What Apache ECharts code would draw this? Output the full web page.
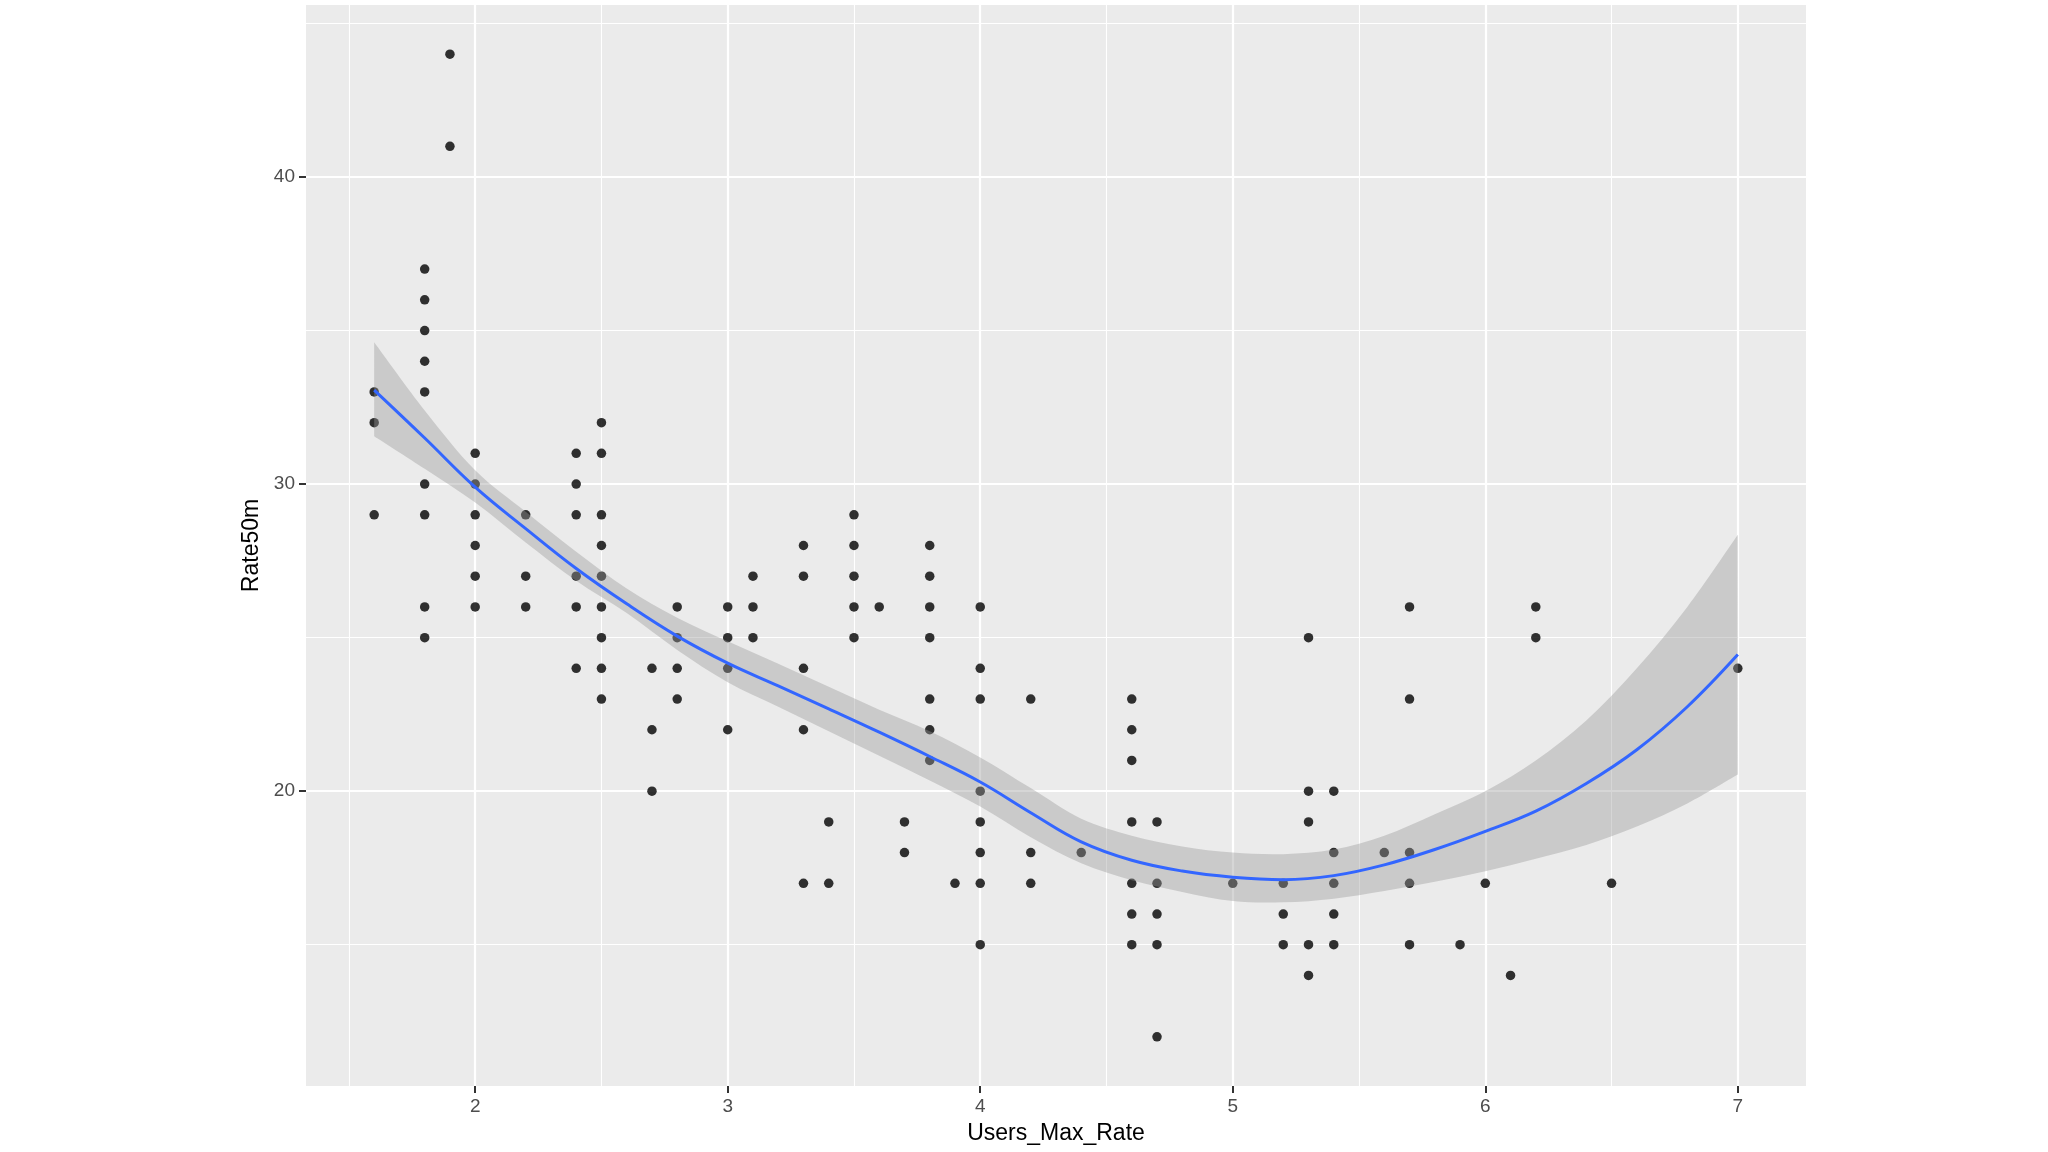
<!DOCTYPE html>
<html><head><meta charset="utf-8">
<script src="https://cdn.jsdelivr.net/npm/echarts@6/dist/echarts.min.js"></script>
<style>html,body{margin:0;padding:0;background:#fff}#c{width:2048px;height:1152px}</style>
</head><body><div id="c"></div>
<script>
// ---- scatter data (Users_Max_Rate, Rate50m) ----
const pointX = [
  1.6,1.6,1.6,
  1.8,1.8,1.8,1.8,1.8,1.8,1.8,1.8,1.8,
  1.9,1.9,
  2.0,2.0,2.0,2.0,2.0,2.0,
  2.2,2.2,2.2,
  2.4,2.4,2.4,2.4,2.4,2.4,
  2.5,2.5,2.5,2.5,2.5,2.5,2.5,2.5,2.5,
  2.7,2.7,2.7,
  2.8,2.8,2.8,2.8,
  3.0,3.0,3.0,3.0,
  3.1,3.1,3.1,
  3.3,3.3,3.3,3.3,3.3,
  3.4,3.4,
  3.5,3.5,3.5,3.5,3.5,
  3.6,
  3.7,3.7,
  3.8,3.8,3.8,3.8,3.8,3.8,3.8,
  3.9,
  4.0,4.0,4.0,4.0,4.0,4.0,4.0,4.0,
  4.2,4.2,4.2,
  4.4,
  4.6,4.6,4.6,4.6,4.6,4.6,4.6,
  4.7,4.7,4.7,4.7,4.7,
  5.0,
  5.2,5.2,5.2,
  5.3,5.3,5.3,5.3,5.3,
  5.4,5.4,5.4,5.4,5.4,
  5.6,
  5.7,5.7,5.7,5.7,5.7,
  5.9,
  6.0,
  6.1,
  6.2,6.2,
  6.5,
  7.0
];
const pointY = [
  33,32,29,
  37,36,35,34,33,30,29,26,25,
  44,41,
  31,30,29,28,27,26,
  29,27,26,
  31,30,29,27,26,24,
  32,31,29,28,27,26,25,24,23,
  24,22,20,
  26,25,24,23,
  26,25,24,22,
  27,26,25,
  28,27,24,22,17,
  19,17,
  29,28,27,26,25,
  26,
  19,18,
  28,27,26,25,23,22,21,
  17,
  26,24,23,20,19,18,17,15,
  23,18,17,
  18,
  23,22,21,19,17,16,15,
  19,17,16,15,12,
  17,
  17,16,15,
  25,20,19,15,14,
  20,18,17,16,15,
  18,
  26,23,18,17,15,
  15,
  17,
  14,
  26,25,
  17,
  24
];

// ---- smoother and its confidence band ----
const fitX      = [1.6, 1.8, 2.0, 2.2, 2.4, 2.6, 2.8, 3.0, 3.2, 3.4, 3.6, 3.8, 4.0, 4.2, 4.4, 4.6, 4.8, 5.0, 5.2, 5.4, 5.6, 5.8, 6.0, 6.2, 6.4, 6.6, 6.8, 7.0];
const fitY      = [33.06, 31.5, 29.9, 28.55, 27.25, 26.1, 25.05, 24.17, 23.43, 22.68, 21.92, 21.13, 20.3, 19.3, 18.35, 17.75, 17.4, 17.2, 17.12, 17.25, 17.6, 18.1, 18.69, 19.35, 20.25, 21.35, 22.75, 24.45];
const bandUpper = [34.62, 32.4, 30.45, 29.1, 27.8, 26.6, 25.65, 24.88, 24.15, 23.4, 22.65, 21.95, 21.1, 20.1, 19.1, 18.55, 18.2, 18.0, 17.95, 18.1, 18.55, 19.25, 20.0, 21.0, 22.3, 24.0, 26.0, 28.35];
const bandLower = [31.56, 30.5, 29.4, 28.1, 26.85, 25.8, 24.6, 23.55, 22.75, 21.95, 21.15, 20.35, 19.5, 18.5, 17.65, 17.1, 16.72, 16.42, 16.38, 16.5, 16.75, 17.05, 17.39, 17.8, 18.25, 18.85, 19.6, 20.54];

// ---- axes ----
const xTickLabels = [2, 3, 4, 5, 6, 7];
const xMinorBreaks = [1.5, 2.5, 3.5, 4.5, 5.5, 6.5];
const yTickLabels = [20, 30, 40];
const yMinorBreaks = [15, 25, 35, 45];
const xLimits = [1.33, 7.27];
const yLimits = [10.4, 45.6];
const xTitle = 'Users_Max_Rate';
const yTitle = 'Rate50m';

const FONT = '"Liberation Sans", Arial, sans-serif';
const chart = echarts.init(document.getElementById('c'), null, {renderer: 'canvas'});

const scatterData = pointX.map((x, i) => [x, pointY[i]]);
const fitData = fitX.map((x, i) => [x, fitY[i]]);

const minorLine = {show: true, lineStyle: {color: '#FFFFFF', width: 1.1}};
const majorLine = {show: true, lineStyle: {color: '#FFFFFF', width: 2.2}};

// Smooth curve through pixel points (Catmull-Rom as cubic Bezier segments)
function curveSegments(p) {
  let d = '';
  for (let i = 0; i < p.length - 1; i++) {
    const p0 = p[Math.max(i - 1, 0)], p1 = p[i], p2 = p[i + 1], p3 = p[Math.min(i + 2, p.length - 1)];
    const c1x = p1[0] + (p2[0] - p0[0]) / 6, c1y = p1[1] + (p2[1] - p0[1]) / 6;
    const c2x = p2[0] - (p3[0] - p1[0]) / 6, c2y = p2[1] - (p3[1] - p1[1]) / 6;
    d += ' C' + c1x.toFixed(2) + ' ' + c1y.toFixed(2) + ' ' + c2x.toFixed(2) + ' ' + c2y.toFixed(2) + ' ' + p2[0].toFixed(2) + ' ' + p2[1].toFixed(2);
  }
  return d;
}

chart.setOption({
  animation: false,
  backgroundColor: '#FFFFFF',
  grid: {left: 306, right: 242, top: 5, bottom: 66, show: true, backgroundColor: '#EBEBEB', borderWidth: 0, containLabel: false},
  xAxis: [
    {type: 'value', min: xLimits[0], max: xLimits[1], position: 'bottom',
     axisLine: {show: false}, axisTick: {show: false, customValues: xMinorBreaks},
     axisLabel: {show: false}, splitLine: minorLine},
    {type: 'value', min: xLimits[0], max: xLimits[1], position: 'bottom',
     axisLine: {show: false},
     axisTick: {show: true, customValues: xTickLabels, length: 7, lineStyle: {color: '#333333', width: 2}},
     axisLabel: {show: true, customValues: xTickLabels, color: '#4D4D4D', fontSize: 19, margin: 11, fontFamily: FONT},
     splitLine: majorLine,
     name: xTitle, nameLocation: 'middle', nameGap: 36,
     nameTextStyle: {color: '#000000', fontSize: 23, fontFamily: FONT}}
  ],
  yAxis: [
    {type: 'value', min: yLimits[0], max: yLimits[1], position: 'left',
     axisLine: {show: false}, axisTick: {show: false, customValues: yMinorBreaks},
     axisLabel: {show: false}, splitLine: minorLine},
    {type: 'value', min: yLimits[0], max: yLimits[1], position: 'left',
     axisLine: {show: false},
     axisTick: {show: true, customValues: yTickLabels, length: 7, lineStyle: {color: '#333333', width: 2}},
     axisLabel: {show: true, customValues: yTickLabels, color: '#4D4D4D', fontSize: 19, margin: 11, fontFamily: FONT},
     splitLine: majorLine,
     name: yTitle, nameLocation: 'middle', nameGap: 38, nameRotate: 90,
     nameTextStyle: {color: '#000000', fontSize: 23, fontFamily: FONT}}
  ],
  series: [
    {type: 'scatter', xAxisIndex: 0, yAxisIndex: 0, data: scatterData,
     symbol: 'circle', symbolSize: 9.5, itemStyle: {color: '#000000'}, z: 2},
    {type: 'custom', xAxisIndex: 0, yAxisIndex: 0, z: 3, silent: true,
     data: [[fitX[0], fitY[0]]],
     renderItem: function (params, api) {
       const up = fitX.map((x, i) => api.coord([x, bandUpper[i]]));
       const lo = fitX.map((x, i) => api.coord([x, bandLower[i]])).reverse();
       const d = 'M' + up[0][0].toFixed(2) + ' ' + up[0][1].toFixed(2) + curveSegments(up) +
                 ' L' + lo[0][0].toFixed(2) + ' ' + lo[0][1].toFixed(2) + curveSegments(lo) + ' Z';
       return {type: 'path', shape: {pathData: d},
               style: {fill: 'rgba(153,153,153,0.4)', stroke: null}};
     }},
    {type: 'line', xAxisIndex: 0, yAxisIndex: 0, data: fitData,
     symbol: 'none', smooth: 0.4, lineStyle: {color: '#3366FF', width: 3}, z: 4}
  ]
});
</script>
</body></html>
